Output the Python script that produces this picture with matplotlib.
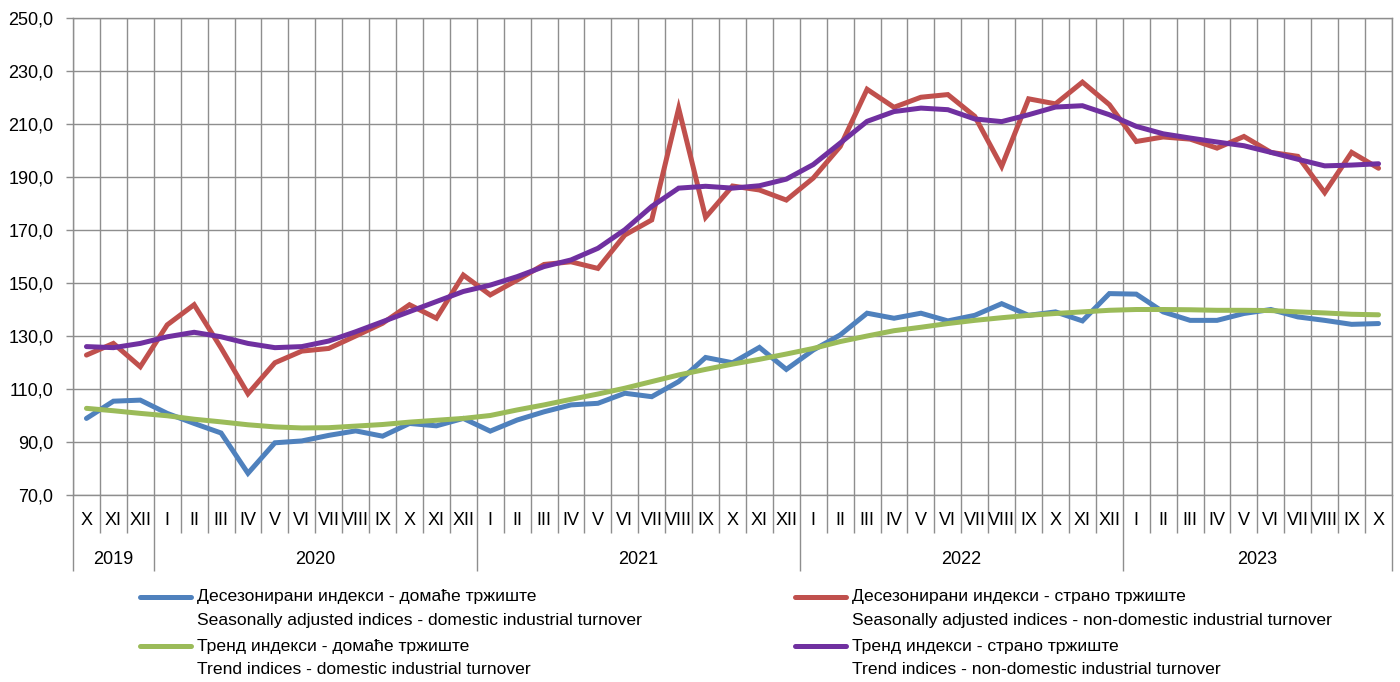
import matplotlib
matplotlib.use('Agg')
import matplotlib.pyplot as plt
from matplotlib.lines import Line2D
from matplotlib.ticker import FixedLocator, FuncFormatter

plt.rcParams['font.family'] = ['Liberation Sans', 'DejaVu Sans']

# month labels, Oct 2019 - Oct 2023
roman = ['I', 'II', 'III', 'IV', 'V', 'VI', 'VII', 'VIII', 'IX', 'X', 'XI', 'XII']
months = ['X', 'XI', 'XII'] + roman * 3 + roman[:10]
years = ['2019', '2020', '2021', '2022', '2023']
year_bounds = [0, 3, 15, 27, 39, 49]

sa_domestic = [98.9, 105.4, 105.8, 100.8, 97.0, 93.4, 78.2, 89.7, 90.4, 92.5, 94.2, 92.2, 97.0, 96.1, 98.9,
               94.1, 98.3, 101.4, 104.0, 104.6, 108.4, 107.1, 112.8, 121.9, 119.9, 125.7, 117.4, 124.7, 130.4, 138.6, 136.7, 138.6,
               135.7, 137.8, 142.2, 137.8, 139.1, 135.7, 146.0, 145.8, 139.1, 135.9, 135.9, 138.5, 140.0, 137.2, 135.9, 134.4, 134.7]
sa_foreign = [122.8, 127.2, 118.4, 134.2, 141.8, 125.5, 108.2, 119.9, 124.3, 125.3, 130.0, 134.8, 141.8, 136.7, 153.0,
              145.5, 151.1, 157.0, 158.0, 155.5, 168.1, 173.8, 215.9, 174.8, 186.6, 185.1, 181.3, 189.6, 201.5, 223.1, 216.3, 220.1,
              221.1, 212.9, 194.0, 219.5, 217.6, 225.8, 217.3, 203.4, 205.1, 204.3, 200.9, 205.3, 199.3, 197.8, 184.1, 199.3, 193.3]
trend_domestic = [102.7, 101.8, 100.8, 99.9, 98.6, 97.6, 96.5, 95.7, 95.3, 95.4, 96.0, 96.6, 97.5, 98.2, 98.9,
                  100.0, 102.1, 104.0, 106.1, 108.1, 110.3, 112.8, 115.3, 117.4, 119.4, 121.2, 123.2, 125.3, 127.9, 130.0, 132.0, 133.3,
                  134.7, 135.9, 136.9, 137.8, 138.5, 139.1, 139.7, 140.0, 140.0, 139.9, 139.7, 139.7, 139.6, 139.1, 138.7, 138.2, 138.0]
trend_foreign = [126.0, 125.6, 127.2, 129.7, 131.4, 129.7, 127.2, 125.6, 126.0, 128.1, 131.6, 135.4, 139.2, 143.0, 146.8,
                 149.2, 152.4, 156.2, 158.7, 163.1, 170.1, 178.9, 185.8, 186.5, 185.8, 186.7, 189.2, 194.7, 202.8, 211.0, 214.7, 216.0,
                 215.4, 211.9, 210.9, 213.5, 216.4, 216.9, 213.5, 209.1, 206.3, 204.7, 203.2, 201.8, 199.3, 196.7, 194.2, 194.5, 195.0]

labels = [
    ['Десезонирани индекси - домаће тржиште', 'Seasonally adjusted indices - domestic industrial turnover'],
    ['Десезонирани индекси - страно тржиште', 'Seasonally adjusted indices - non-domestic industrial turnover'],
    ['Тренд индекси - домаће тржиште', 'Trend indices - domestic industrial turnover'],
    ['Тренд индекси - страно тржиште', 'Trend indices - non-domestic industrial turnover'],
]
colors = ['#4F81BD', '#C0504D', '#9BBB59', '#7030A0']
grid_col = '#8e8e8e'

fig = plt.figure(figsize=(14, 6.82), dpi=100)
ax = fig.add_axes([73 / 1400, 1 - 495 / 682, (1392 - 73) / 1400, 477 / 682])

x = [i + 0.5 for i in range(len(months))]
for ys, c in zip([sa_domestic, sa_foreign, trend_domestic, trend_foreign], colors):
    ax.plot(x, ys, color=c, lw=3.6, solid_capstyle='round', solid_joinstyle='miter', zorder=3)

ax.set_xlim(0, len(months))
ax.set_ylim(70, 250)
ax.yaxis.set_major_locator(FixedLocator(range(70, 251, 20)))
ax.yaxis.set_major_formatter(FuncFormatter(lambda v, p: ('%.1f' % v).replace('.', ',')))
ax.tick_params(axis='y', length=5, width=1, color=grid_col, labelsize=13, pad=9)

# category boundaries: long ticks at years, short ticks at months
ax.xaxis.set_major_locator(FixedLocator(year_bounds))
ax.xaxis.set_minor_locator(FixedLocator([b for b in range(len(months) + 1) if b not in year_bounds]))
ax.xaxis.set_major_formatter(FuncFormatter(lambda v, p: ''))
ax.tick_params(axis='x', which='major', length=55, width=1, color=grid_col)
ax.tick_params(axis='x', which='minor', length=27.5, width=1, color=grid_col)
ax.grid(True, which='both', color=grid_col, lw=1.0, zorder=0)
ax.set_axisbelow(True)
for s in ax.spines.values():
    s.set_color(grid_col)
    s.set_linewidth(1.0)

for xi, m in zip(x, months):
    ax.text(xi, -0.0545, m, transform=ax.get_xaxis_transform(), ha='center', va='center', fontsize=13)
for k, yr in enumerate(years):
    mid = (year_bounds[k] + year_bounds[k + 1]) / 2
    ax.text(mid, -0.136, yr, transform=ax.get_xaxis_transform(), ha='center', va='center', fontsize=13)

# legend, two columns, first line next to the handle
cols = [(140, 197), (795, 852)]
rows = [597, 646]
for n, (lab, c) in enumerate(zip(labels, colors)):
    hx, tx = cols[n % 2]
    ty = rows[n // 2]
    fig.add_artist(Line2D([hx / 1400, (hx + 51) / 1400], [1 - ty / 682, 1 - ty / 682], color=c, lw=3.6,
                          solid_capstyle='round'))
    fig.text(tx / 1400, 1 - ty / 682, lab[0], ha='left', va='center', fontsize=12.6)
    fig.text(tx / 1400, 1 - (ty + 24) / 682, lab[1], ha='left', va='center', fontsize=12.6)

plt.savefig('out.png', dpi=100)
